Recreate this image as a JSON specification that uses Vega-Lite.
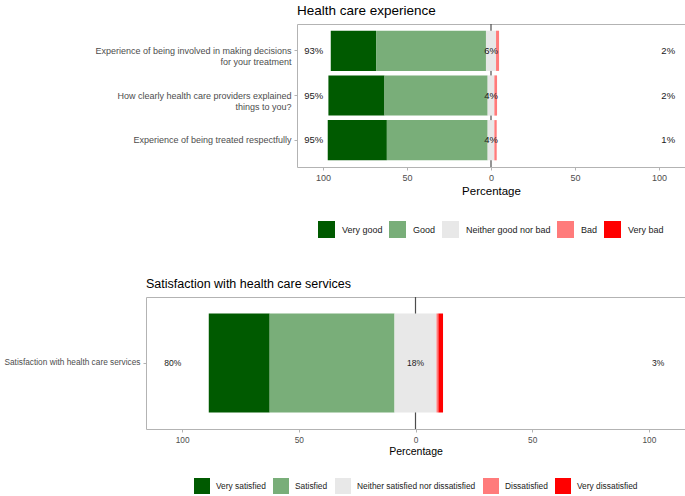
{
  "$schema": "https://vega.github.io/schema/vega-lite/v6.json",
  "padding": {"left": 3, "top": 3, "right": 1, "bottom": 0},
  "autosize": {"type": "pad"},
  "spacing": 38,
  "background": "white",
  "datasets": {
    "exp": [
      {"item": "Experience of being involved in making decisions\nfor your treatment", "response": "Very good", "start": -95.4, "end": -68.4},
      {"item": "Experience of being involved in making decisions\nfor your treatment", "response": "Good", "start": -68.4, "end": -3},
      {"item": "Experience of being involved in making decisions\nfor your treatment", "response": "Neither good nor bad", "start": -3, "end": 3},
      {"item": "Experience of being involved in making decisions\nfor your treatment", "response": "Bad", "start": 3, "end": 4.8},
      {"item": "How clearly health care providers explained\nthings to you?", "response": "Very good", "start": -96.8, "end": -63.4},
      {"item": "How clearly health care providers explained\nthings to you?", "response": "Good", "start": -63.4, "end": -2},
      {"item": "How clearly health care providers explained\nthings to you?", "response": "Neither good nor bad", "start": -2, "end": 2},
      {"item": "How clearly health care providers explained\nthings to you?", "response": "Bad", "start": 2, "end": 3.6},
      {"item": "Experience of being treated respectfully", "response": "Very good", "start": -97.2, "end": -62},
      {"item": "Experience of being treated respectfully", "response": "Good", "start": -62, "end": -2},
      {"item": "Experience of being treated respectfully", "response": "Neither good nor bad", "start": -2, "end": 2},
      {"item": "Experience of being treated respectfully", "response": "Bad", "start": 2, "end": 3.4}
    ],
    "expLabels": [
      {"item": "Experience of being involved in making decisions\nfor your treatment", "positive": "93%", "neutral": "6%", "negative": "2%"},
      {"item": "How clearly health care providers explained\nthings to you?", "positive": "95%", "neutral": "4%", "negative": "2%"},
      {"item": "Experience of being treated respectfully", "positive": "95%", "neutral": "4%", "negative": "1%"}
    ],
    "sat": [
      {"item": "Satisfaction with health care services", "response": "Very satisfied", "start": -88.6, "end": -62.5},
      {"item": "Satisfaction with health care services", "response": "Satisfied", "start": -62.5, "end": -9},
      {"item": "Satisfaction with health care services", "response": "Neither satisfied nor dissatisfied", "start": -9, "end": 9},
      {"item": "Satisfaction with health care services", "response": "Dissatisfied", "start": 9, "end": 9.8},
      {"item": "Satisfaction with health care services", "response": "Very dissatisfied", "start": 9.8, "end": 11.8}
    ],
    "satLabels": [
      {"item": "Satisfaction with health care services", "positive": "80%", "neutral": "18%", "negative": "3%"}
    ]
  },
  "resolve": {"scale": {"color": "independent", "x": "independent", "y": "independent"}, "legend": {"color": "independent"}},
  "vconcat": [
    {
      "bounds": "flush",
      "spacing": 0,
      "resolve": {"scale": {"color": "independent", "x": "independent", "y": "independent"}, "legend": {"color": "independent"}},
      "hconcat": [
        {
          "width": 151,
          "height": 143,
          "data": {"values": []},
          "mark": "point",
          "encoding": {}
        },
        {
          "title": {"text": "Health care experience", "anchor": "start", "frame": "group", "fontSize": 13.5, "fontWeight": "normal", "color": "#000000", "offset": 6},
          "width": 388,
          "height": 143,
          "view": {"stroke": "#b3b3b3"},
          "layer": [
            {
              "data": {"values": [{}]},
              "mark": {"type": "rule", "color": "#4d4d4d", "strokeWidth": 1.2},
              "encoding": {"x": {"datum": 0, "type": "quantitative"}}
            },
            {
              "data": {"name": "exp"},
              "mark": {"type": "bar"},
              "encoding": {
                "y": {
                  "field": "item", "type": "nominal", "sort": null,
                  "scale": {"paddingInner": 0.1, "paddingOuter": 0.15},
                  "axis": {"title": null, "labelFontSize": 9, "labelColor": "#4d4d4d", "labelExpr": "split(datum.label, '\\n')", "labelLineHeight": 11.5, "labelLimit": 300, "tickSize": 3, "tickColor": "#b3b3b3", "domain": false, "labelPadding": 3}
                },
                "x": {
                  "field": "start", "type": "quantitative",
                  "scale": {"domain": [-115.5, 115.5], "nice": false, "zero": false},
                  "axis": {"values": [-100, -50, 0, 50, 100], "labelExpr": "abs(datum.value)", "title": "Percentage", "titleFontSize": 11.5, "titleFontWeight": "normal", "titleColor": "#000000", "labelFontSize": 9, "labelColor": "#4d4d4d", "tickSize": 3, "tickColor": "#b3b3b3", "domain": false, "grid": false, "labelPadding": 3, "titlePadding": 3, "labelFlush": false}
                },
                "x2": {"field": "end"},
                "color": {
                  "field": "response", "type": "nominal",
                  "scale": {"domain": ["Very good", "Good", "Neither good nor bad", "Bad", "Very bad"], "range": ["#005a00", "#79ae79", "#e8e8e8", "#ff7b7b", "#ff0000"]},
                  "legend": {"title": null, "orient": "bottom", "direction": "horizontal", "symbolType": "square", "symbolSize": 289, "symbolStrokeWidth": 0, "labelFontSize": 9, "labelColor": "#1a1a1a", "labelOffset": 7, "columnPadding": 6, "offset": 24}
                }
              }
            },
            {
              "data": {"name": "expLabels"},
              "mark": {"type": "text", "fontSize": 9.5, "color": "#1a1a1a"},
              "encoding": {"y": {"field": "item", "type": "nominal", "sort": null}, "x": {"datum": -105.5, "type": "quantitative"}, "text": {"field": "positive"}}
            },
            {
              "data": {"name": "expLabels"},
              "mark": {"type": "text", "fontSize": 9.5, "color": "#1a1a1a"},
              "encoding": {"y": {"field": "item", "type": "nominal", "sort": null}, "x": {"datum": 0, "type": "quantitative"}, "text": {"field": "neutral"}}
            },
            {
              "data": {"name": "expLabels"},
              "mark": {"type": "text", "fontSize": 9.5, "color": "#1a1a1a"},
              "encoding": {"y": {"field": "item", "type": "nominal", "sort": null}, "x": {"datum": 105.5, "type": "quantitative"}, "text": {"field": "negative"}}
            }
          ]
        }
      ]
    },
    {
      "title": {"text": "Satisfaction with health care services", "anchor": "start", "frame": "group", "fontSize": 12.5, "fontWeight": "normal", "color": "#000000", "offset": 6},
      "width": 539,
      "height": 132,
      "view": {"stroke": "#b3b3b3"},
      "layer": [
        {
          "data": {"values": [{}]},
          "mark": {"type": "rule", "color": "#4d4d4d", "strokeWidth": 1.2},
          "encoding": {"x": {"datum": 0, "type": "quantitative"}}
        },
        {
          "data": {"name": "sat"},
          "mark": {"type": "bar"},
          "encoding": {
            "y": {
              "field": "item", "type": "nominal", "sort": null,
              "scale": {"paddingInner": 0.1, "paddingOuter": 0.15},
              "axis": {"title": null, "labelFontSize": 8.3, "labelColor": "#4d4d4d", "labelLimit": 300, "tickSize": 3, "tickColor": "#b3b3b3", "domain": false, "labelPadding": 3, "minExtent": 142}
            },
            "x": {
              "field": "start", "type": "quantitative",
              "scale": {"domain": [-115.5, 115.5], "nice": false, "zero": false},
              "axis": {"values": [-100, -50, 0, 50, 100], "labelExpr": "abs(datum.value)", "title": "Percentage", "titleFontSize": 10.5, "titleFontWeight": "normal", "titleColor": "#000000", "labelFontSize": 8.3, "labelColor": "#4d4d4d", "tickSize": 3, "tickColor": "#b3b3b3", "domain": false, "grid": false, "labelPadding": 3, "titlePadding": 3, "labelFlush": false}
            },
            "x2": {"field": "end"},
            "color": {
              "field": "response", "type": "nominal",
              "scale": {"domain": ["Very satisfied", "Satisfied", "Neither satisfied nor dissatisfied", "Dissatisfied", "Very dissatisfied"], "range": ["#005a00", "#79ae79", "#e8e8e8", "#ff7b7b", "#ff0000"]},
              "legend": {"title": null, "orient": "bottom", "direction": "horizontal", "symbolType": "square", "symbolSize": 256, "symbolStrokeWidth": 0, "labelFontSize": 8.4, "labelColor": "#1a1a1a", "labelOffset": 6, "columnPadding": 7, "offset": 21}
            }
          }
        },
        {
          "data": {"name": "satLabels"},
          "mark": {"type": "text", "fontSize": 8.5, "color": "#1a1a1a"},
          "encoding": {"y": {"field": "item", "type": "nominal", "sort": null}, "x": {"datum": -104, "type": "quantitative"}, "text": {"field": "positive"}}
        },
        {
          "data": {"name": "satLabels"},
          "mark": {"type": "text", "fontSize": 8.5, "color": "#1a1a1a"},
          "encoding": {"y": {"field": "item", "type": "nominal", "sort": null}, "x": {"datum": 0, "type": "quantitative"}, "text": {"field": "neutral"}}
        },
        {
          "data": {"name": "satLabels"},
          "mark": {"type": "text", "fontSize": 8.5, "color": "#1a1a1a"},
          "encoding": {"y": {"field": "item", "type": "nominal", "sort": null}, "x": {"datum": 104, "type": "quantitative"}, "text": {"field": "negative"}}
        }
      ]
    }
  ],
  "config": {
    "font": "Liberation Sans",
    "view": {"stroke": null},
    "legend": {"layout": {"bottom": {"anchor": "middle"}}}
  }
}
